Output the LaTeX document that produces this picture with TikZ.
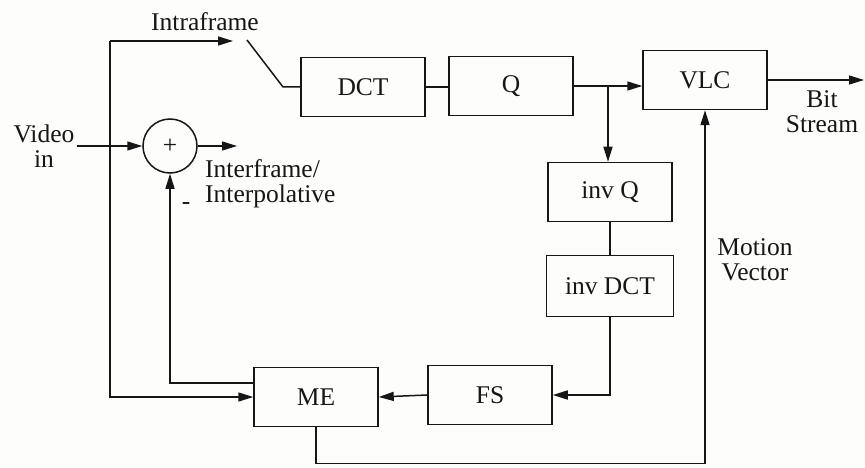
\documentclass[tikz,border=0pt]{standalone}
\usepackage{fontspec}
\setmainfont{Liberation Serif}
\usetikzlibrary{arrows.meta,calc}
\definecolor{Paper}{HTML}{FDFDFB}
\definecolor{Ink}{HTML}{161616}

\begin{document}
\begin{tikzpicture}[x=1pt,y=-1pt,every node/.style={font=\fontsize{25.5}{25}\selectfont,text=Ink},block/.style={draw=Ink,line width=1.5pt,minimum width=124pt,minimum height=59pt,inner sep=0pt},summer/.style={circle,draw=Ink,line width=1.5pt,minimum size=54pt,inner sep=0pt},wire/.style={draw=Ink,line width=1.5pt},flow/.style={wire,-{Triangle[length=15pt,width=9pt]}},tag/.style={align=center,inner sep=2pt}]
\fill[Paper] (0,0) rectangle (865,468);
% blocks
\node[block] (dct) at (363,87) {DCT}; \node[block] (q) at (511,86) {Q}; \node[block] (vlc) at (705,80) {VLC};
\node[block] (invq) at (610,192) {inv Q}; \node[block,minimum width=127pt,minimum height=61pt] (invdct) at (610,286) {inv DCT};
\node[block] (fs) at (490,395) {FS}; \node[block] (me) at (316,397) {ME};
\node[summer] (sum) at (170,146) {+};
% labels
\node[tag] (intra) at (205,22) {Intraframe};
\node[tag] (vin) at (44,146) {Video\\in};
\node[tag,align=left,anchor=west] (inter) at (203,184) {Interframe/\\Interpolative};
\node[tag] (minus) at (186,206) {-};
\node[tag] (bits) at (822,112) {Bit\\Stream};
\node[tag] (mv) at (755,260) {Motion\\Vector};
% free ends
\coordinate (fork) at (110,41); \coordinate (intratip) at (233,41);
\coordinate (pivot) at (247,40); \coordinate (knee) at (283,87);
\coordinate (interout) at (237,146); \coordinate (bsend) at (864,80);
\coordinate (tee) at ($(q.east)!0.5!(q.east -| vlc.west)$);
% connectors
\draw[flow] (fork) -- (intratip); \draw[flow] (fork) |- (me.west);
\draw[wire] (pivot) -- (knee) -- (dct.west);
\draw[wire] (dct.east) -- (dct.east -| q.west);
\draw[flow] (q.east) -- (q.east -| vlc.west);
\draw[flow] (tee) -- (tee |- invq.north);
\draw[wire] (invq.south) -- (invdct.north);
\draw[flow] (invdct.south) |- (fs.east);
\draw[flow] (fs.west) -- (me.east);
\draw[flow] ([yshift=14pt]me.west) -| (sum.south);
\draw[flow] (me.south) -- ++(0,36) -| (vlc.south);
\draw[flow] (vin.east) -- (sum.west);
\draw[flow] (sum.east) -- (interout);
\draw[flow] (vlc.east) -- (bsend);
\end{tikzpicture}
\end{document}
